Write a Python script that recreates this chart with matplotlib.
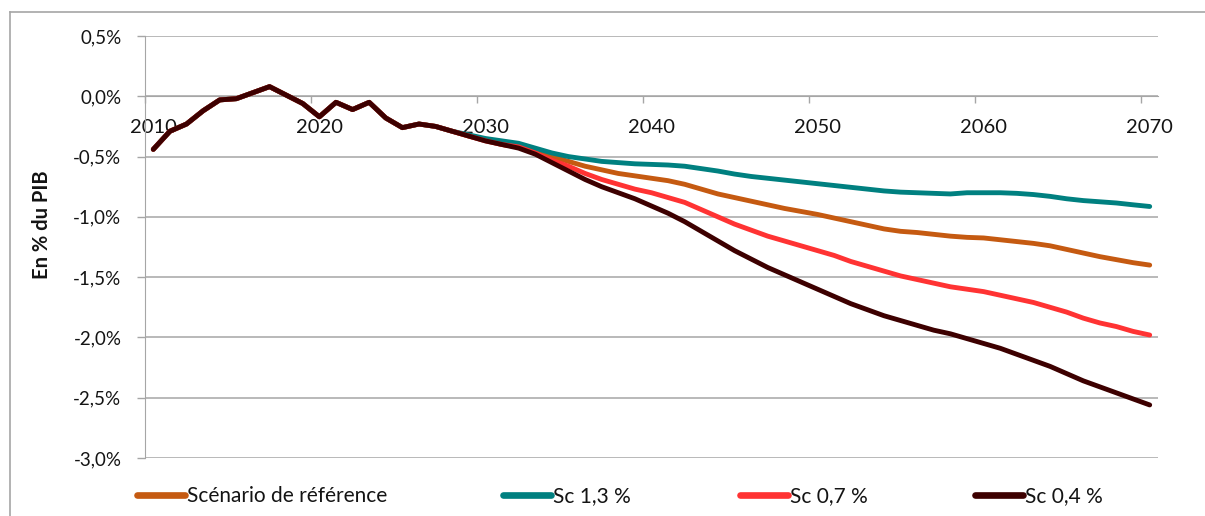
import matplotlib
matplotlib.use("Agg")
import matplotlib.pyplot as plt
from matplotlib.lines import Line2D
from matplotlib.ticker import FixedLocator, FuncFormatter, NullFormatter

plt.rcParams['font.family'] = ['Lato', 'DejaVu Sans']

# Solde en % du PIB, 2010-2070
years = list(range(2010, 2071))

ref = [-0.44, -0.29, -0.23, -0.12, -0.03, -0.02, 0.03, 0.08, 0.01, -0.06,
       -0.17, -0.05, -0.11, -0.05, -0.18, -0.26, -0.23, -0.25, -0.29,
       -0.33, -0.365, -0.40, -0.42, -0.45, -0.50, -0.54, -0.58, -0.61, -0.64,
       -0.66, -0.68, -0.70, -0.73, -0.77, -0.81, -0.84, -0.87, -0.90, -0.93,
       -0.955, -0.98, -1.01, -1.04, -1.07, -1.10, -1.12, -1.13, -1.145, -1.16,
       -1.17, -1.175, -1.19, -1.205, -1.22, -1.24, -1.27, -1.30, -1.33, -1.355,
       -1.38, -1.40]

sc13 = [-0.44, -0.29, -0.23, -0.12, -0.03, -0.02, 0.03, 0.08, 0.01, -0.06,
        -0.17, -0.05, -0.11, -0.05, -0.18, -0.26, -0.23, -0.25, -0.29,
        -0.32, -0.35, -0.37, -0.39, -0.43, -0.47, -0.50, -0.52, -0.54, -0.55,
        -0.56, -0.565, -0.57, -0.58, -0.60, -0.62, -0.645, -0.665, -0.68, -0.695,
        -0.71, -0.725, -0.74, -0.755, -0.77, -0.785, -0.795, -0.80, -0.805, -0.81,
        -0.80, -0.80, -0.80, -0.805, -0.815, -0.83, -0.85, -0.865, -0.875, -0.885,
        -0.90, -0.914]

sc07 = [-0.44, -0.29, -0.23, -0.12, -0.03, -0.02, 0.03, 0.08, 0.01, -0.06,
        -0.17, -0.05, -0.11, -0.05, -0.18, -0.26, -0.23, -0.25, -0.29,
        -0.33, -0.37, -0.40, -0.42, -0.47, -0.53, -0.58, -0.64, -0.69, -0.73,
        -0.77, -0.80, -0.84, -0.88, -0.94, -1.00, -1.06, -1.11, -1.16, -1.20,
        -1.24, -1.28, -1.32, -1.37, -1.41, -1.45, -1.49, -1.52, -1.55, -1.58,
        -1.60, -1.62, -1.65, -1.68, -1.71, -1.75, -1.79, -1.84, -1.88, -1.91,
        -1.95, -1.98]

sc04 = [-0.44, -0.29, -0.23, -0.12, -0.03, -0.02, 0.03, 0.08, 0.01, -0.06,
        -0.17, -0.05, -0.11, -0.05, -0.18, -0.26, -0.23, -0.25, -0.29,
        -0.33, -0.37, -0.40, -0.43, -0.48, -0.55, -0.62, -0.69, -0.75, -0.80,
        -0.85, -0.91, -0.97, -1.04, -1.12, -1.20, -1.28, -1.35, -1.42, -1.48,
        -1.54, -1.60, -1.66, -1.72, -1.77, -1.82, -1.86, -1.90, -1.94, -1.97,
        -2.01, -2.05, -2.09, -2.14, -2.19, -2.24, -2.30, -2.36, -2.41, -2.46,
        -2.51, -2.56]

series_labels = ["Scénario de référence", "Sc 1,3 %", "Sc 0,7 %", "Sc 0,4 %"]
series_values = [ref, sc13, sc07, sc04]
series_colors = ["#C55A11", "#008080", "#FF3333", "#3D0000"]

y_ticks = [0.5, 0.0, -0.5, -1.0, -1.5, -2.0, -2.5, -3.0]
x_labels = [2010, 2020, 2030, 2040, 2050, 2060, 2070]

GRID = "#A6A6A6"
TEXT = "#141414"

fig = plt.figure(figsize=(12.05, 5.16), dpi=100)
ax = fig.add_axes([145 / 1205, 1 - 458 / 516, (1158 - 145) / 1205, (458 - 36) / 516])

for vals, col in zip(series_values, series_colors):
    ax.plot(years, vals, color=col, lw=3.5, solid_capstyle='round',
            solid_joinstyle='round', zorder=3)

# one category slot per year
ax.set_xlim(2009.5, 2070.5)
ax.set_ylim(-3.0, 0.5)

# y axis
ax.yaxis.set_major_locator(FixedLocator(y_ticks))
ax.yaxis.set_major_formatter(FuncFormatter(
    lambda v, p: f"{v:.1f}%".replace('.', ',').replace('-0,0', '0,0')))
ax.tick_params(axis='y', direction='out', length=6, width=1, color=GRID,
               pad=11, labelsize=13.5, labelcolor=TEXT)
ax.grid(axis='y', color=GRID, lw=1.1, zorder=1)
ax.set_axisbelow(True)

# x axis crossing at zero: ticks at category boundaries, labels centred
ax.spines['bottom'].set_position(('data', 0))
ax.spines['bottom'].set_color(GRID)
ax.spines['left'].set_color(GRID)
ax.spines['top'].set_visible(False)
ax.spines['right'].set_visible(False)
ax.xaxis.set_major_locator(FixedLocator([y - 0.5 for y in x_labels]))
ax.xaxis.set_major_formatter(NullFormatter())
ax.xaxis.set_minor_locator(FixedLocator(x_labels))
ax.xaxis.set_minor_formatter(FuncFormatter(lambda v, p: f"{int(round(v))}"))
ax.tick_params(axis='x', which='major', direction='out', length=5, width=1, color=GRID)
ax.tick_params(axis='x', which='minor', length=0, pad=16, labelsize=14.5,
               labelcolor=TEXT)

fig.text(42.5 / 1205, 1 - 225 / 516, "En % du PIB", rotation=90, fontsize=14.5,
         fontweight='bold', ha='center', va='center', color=TEXT)

# legend entries along the bottom
legend_x = [137, 503, 740, 975]
for lab, col, lx in zip(series_labels, series_colors, legend_x):
    h = Line2D([], [], color=col, lw=4.8, solid_capstyle='round')
    fig.legend(handles=[h], labels=[lab], loc='center left',
               bbox_to_anchor=(lx / 1205, 1 - 496 / 516), frameon=False,
               borderpad=0, borderaxespad=0, handlelength=2.3, handletextpad=0.12,
               fontsize=15, labelcolor=TEXT)

# outer chart frame
fig.add_artist(Line2D([10 / 1205, 1.0], [1 - 12 / 516, 1 - 12 / 516],
                      transform=fig.transFigure, color=GRID, lw=1.2))
fig.add_artist(Line2D([10 / 1205, 10 / 1205], [0.0, 1 - 12 / 516],
                      transform=fig.transFigure, color=GRID, lw=1.2))

fig.savefig("out.png", dpi=100)
